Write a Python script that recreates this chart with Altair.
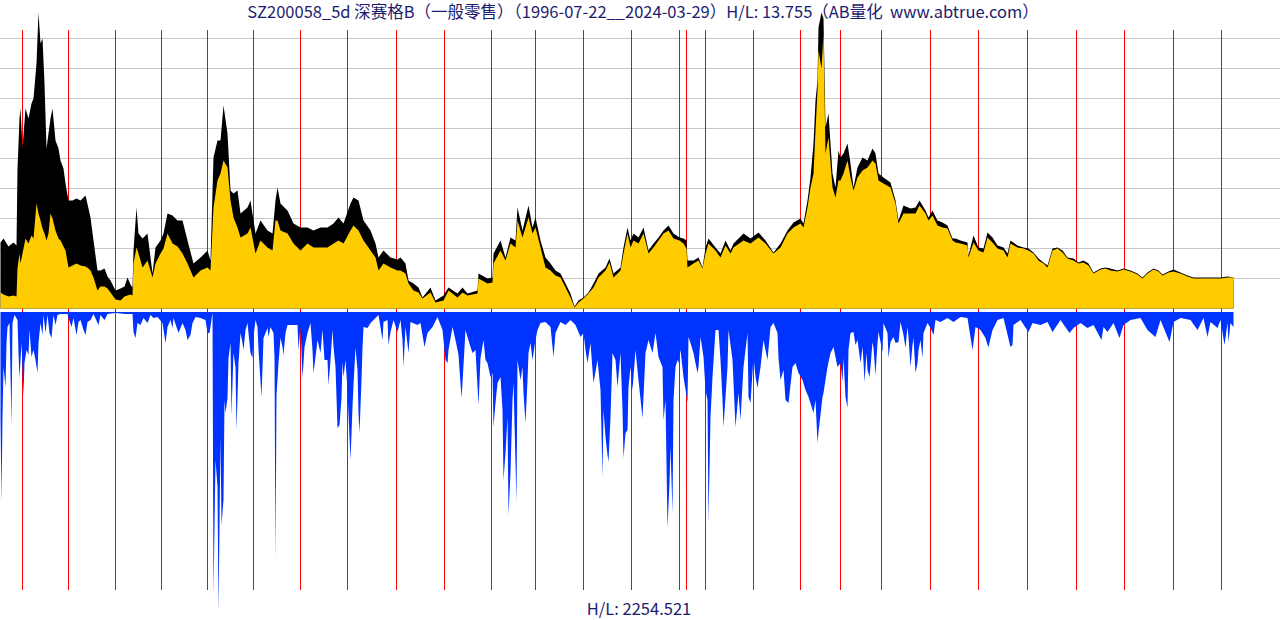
import altair as alt
import pandas as pd

TITLE = "SZ200058_5d 深赛格B（一般零售）（1996-07-22__2024-03-29）H/L: 13.755（AB量化\u00a0\u00a0www.abtrue.com）"
VOL_LABEL = "H/L: 2254.521"

# bar index (5-day bars), high and close in chart units
bar_idx = [0,3,8,13,16,17,19,20,22,25,28,31,33,36,38,40,42,44,46,48,50,52,55,58,60,63,65,68,72,76,80,85,88,90,93,97,100,104,107,110,115,120,124,127,130,132,133,136,138,142,147,152,155,160,163,167,172,177,182,187,193,200,207,210,213,217,220,223,227,230,233,237,240,247,250,255,260,267,272,275,277,280,287,293,300,307,313,320,327,333,338,343,350,353,358,363,370,375,378,383,390,397,400,405,408,413,418,422,430,435,443,448,457,462,467,477,478,487,492,493,500,505,510,515,517,522,528,532,535,540,545,550,555,560,565,570,574,578,583,588,593,598,605,609,613,620,623,627,630,633,638,643,648,653,658,663,668,673,679,683,686,687,693,698,702,705,708,715,720,725,730,733,743,750,758,765,773,780,787,793,800,803,807,810,813,815,817,818,821,823,825,828,832,835,838,840,843,847,850,853,857,862,867,872,875,878,883,890,895,898,903,910,915,919,925,928,932,937,942,947,952,955,960,967,968,973,978,983,987,992,997,1003,1007,1010,1017,1023,1028,1033,1038,1043,1047,1052,1057,1062,1067,1073,1078,1083,1088,1093,1100,1105,1110,1117,1123,1130,1137,1142,1147,1153,1158,1162,1168,1173,1180,1187,1193,1200,1207,1213,1220,1227,1233]
high = [66,70,62,66,63,140,190,200,160,200,190,205,210,245,296,265,270,225,160,175,190,200,168,160,148,140,125,108,108,110,108,113,100,91,68,38,38,40,32,28,18,20,22,31,24,21,58,101,75,70,75,35,61,68,75,95,93,88,88,68,45,51,58,48,151,168,168,203,175,118,115,118,95,101,108,75,88,78,75,108,121,105,98,85,81,81,78,81,81,85,91,85,105,111,108,88,78,65,51,58,51,49,51,45,28,25,21,11,21,8,13,21,15,21,15,18,35,30,31,55,68,51,71,68,101,78,103,81,91,68,51,45,38,35,25,15,2,8,11,16,25,35,41,50,35,41,61,81,68,75,71,81,58,65,71,78,83,75,71,70,68,48,48,51,41,61,70,61,55,68,58,65,75,70,76,68,56,65,78,86,90,85,108,131,165,208,228,281,296,290,181,195,135,121,158,151,155,165,145,121,141,151,148,160,155,135,131,126,108,88,103,100,101,108,98,91,98,88,86,83,70,70,68,66,53,73,61,60,76,71,63,61,55,68,63,61,60,56,50,46,43,60,61,58,51,50,46,48,45,36,40,41,40,38,40,38,35,31,36,40,38,34,37,39,36,33,31,31,31,31,31,32,31]
close = [16,14,12,13,12,40,55,45,55,70,65,73,70,105,95,88,80,75,68,75,95,90,78,70,68,62,58,41,43,45,43,42,40,38,31,18,22,22,20,16,9,8,12,13,14,13,45,61,55,41,48,31,45,55,60,75,65,62,55,45,31,38,41,38,101,128,135,148,141,108,91,81,71,75,81,55,68,61,58,88,88,78,75,65,58,65,61,61,61,65,68,65,78,83,78,68,58,51,38,45,41,38,38,35,25,18,16,10,16,6,8,18,11,16,13,15,30,25,26,45,58,48,65,61,88,71,91,75,81,61,41,38,33,31,21,11,1,6,10,15,21,31,38,46,31,38,55,75,61,68,65,75,55,61,68,75,78,70,68,65,60,41,45,48,40,55,65,58,51,63,55,61,68,65,71,65,55,61,75,81,85,81,101,121,135,178,218,258,240,275,155,171,121,111,128,128,135,148,131,118,131,138,141,148,145,128,125,121,105,85,95,95,95,103,95,88,93,83,81,80,68,66,65,63,51,66,58,56,71,66,60,58,51,65,61,60,58,55,48,45,41,58,60,56,50,48,45,46,43,35,39,40,38,37,39,37,34,30,35,39,37,33,36,37,35,32,30,30,30,30,30,31,31]

# volume (chart units) by bar index
vol_idx = [0,1,2,3,5,6,7,9,11,12,14,17,18,19,21,23,24,26,28,29,31,33,35,37,38,40,42,43,45,47,49,51,53,55,57,60,67,68,71,73,76,78,80,83,85,87,90,93,98,100,104,107,115,125,132,133,135,137,140,143,147,150,153,157,162,165,167,170,172,173,178,182,185,187,190,192,195,200,205,207,209,212,213,215,217,218,220,221,223,224,225,227,228,230,231,233,235,236,238,240,242,243,245,247,249,250,252,253,255,257,258,261,262,263,267,268,270,273,274,275,276,278,280,282,283,285,287,297,298,300,302,304,307,310,312,313,315,317,320,322,324,327,328,330,332,333,335,337,339,341,342,343,345,347,348,350,352,353,355,357,358,359,361,362,363,367,370,373,378,382,383,387,388,390,393,397,400,402,403,405,408,410,417,420,424,427,432,437,442,445,447,448,452,455,458,461,462,465,467,470,472,475,478,480,483,485,487,490,492,493,495,497,500,502,503,505,507,508,510,512,513,515,516,517,520,522,523,525,527,528,530,532,535,537,540,545,550,553,555,560,565,570,575,580,583,585,587,590,593,597,600,602,603,605,607,608,610,612,615,617,620,622,623,625,627,628,630,632,635,638,642,645,648,652,655,658,662,663,665,667,669,670,672,673,675,677,678,680,683,687,688,690,693,697,698,700,703,705,707,708,710,712,715,718,720,722,723,727,728,732,735,738,740,743,747,748,750,753,755,757,760,763,767,770,773,777,778,780,783,785,788,792,795,798,802,805,808,813,815,817,818,822,823,827,830,833,837,840,842,843,845,847,848,850,853,855,857,860,862,863,864,866,867,869,870,872,873,875,877,878,882,883,887,888,890,893,895,898,900,903,905,907,908,910,912,913,915,917,918,920,922,923,927,930,933,935,940,947,953,960,967,972,975,980,985,987,988,992,997,1003,1010,1012,1013,1020,1028,1032,1040,1047,1052,1060,1069,1073,1080,1087,1093,1101,1103,1107,1113,1119,1123,1130,1140,1147,1155,1160,1169,1173,1180,1190,1197,1203,1207,1210,1217,1220,1224,1227,1228,1230,1233]
volume = [105,190,105,55,75,31,15,11,113,11,3,8,41,66,31,83,51,38,43,18,45,38,48,61,31,11,23,3,21,3,21,26,3,13,3,2,2,6,15,6,23,10,8,18,23,10,8,2,13,3,8,2,1,2,2,20,26,11,13,6,11,3,6,5,11,31,15,8,16,6,21,11,18,28,23,11,5,6,8,21,21,1,283,148,175,300,125,213,188,88,101,86,46,31,103,41,55,118,51,21,31,38,18,11,31,41,46,25,8,15,38,85,56,26,16,25,15,21,46,248,83,51,26,35,43,21,13,13,38,15,66,35,21,11,38,61,45,28,41,18,48,48,73,48,18,35,55,116,113,86,50,65,48,78,103,148,95,73,36,58,101,121,68,36,15,16,11,8,3,28,10,8,33,20,8,20,8,28,55,15,41,10,13,11,35,21,15,5,18,48,51,38,15,28,43,86,71,18,25,35,41,38,93,46,28,48,51,65,61,115,91,71,65,98,168,141,105,203,160,88,71,151,190,48,68,55,81,111,68,41,31,48,28,18,11,10,15,45,21,10,13,8,13,25,21,38,51,31,71,48,78,165,98,125,143,150,105,41,48,75,41,98,146,121,118,75,55,78,38,68,106,41,28,41,21,45,55,108,88,216,171,135,201,88,55,48,51,38,65,90,25,31,41,61,55,25,45,78,88,210,105,65,18,18,48,88,115,55,18,48,115,81,108,55,21,85,91,45,65,76,55,28,48,15,11,21,46,68,58,88,91,55,51,61,68,78,85,101,88,131,120,85,81,55,41,35,55,51,70,46,85,96,38,21,20,33,28,51,35,50,70,41,58,65,55,30,36,63,31,20,40,11,21,46,30,25,31,30,10,23,36,15,25,55,33,26,61,51,38,28,46,21,11,16,23,8,10,6,10,5,6,38,15,18,26,33,35,18,8,6,35,33,13,8,20,11,13,10,20,8,21,16,11,16,13,28,15,20,11,26,13,8,6,18,25,8,30,10,6,8,18,6,25,10,16,8,33,11,30,11,15]

# first bar of each calendar year 1997..2024
year_start_idx = [22,68,115,161,207,253,300,347,396,444,491,535,583,631,679,686,705,753,800,840,881,930,978,1027,1076,1124,1173,1221]
grid_levels = [30,60,90,120,150,180,210,240,270]

N_BARS = 1233

price_df = pd.DataFrame({"idx": bar_idx, "high": high, "close": close})
vol_df = pd.DataFrame({"idx": vol_idx, "vol": volume})
year_df = pd.DataFrame({"idx": year_start_idx})
grid_df = pd.DataFrame({"level": grid_levels})

xs = alt.Scale(domain=[0, N_BARS], range=[0.5, N_BARS + 0.5], nice=False, zero=False)
py = alt.Scale(domain=[0, 300], range=[308.5, 8.5], nice=False)
vy = alt.Scale(domain=[0, 300], range=[312, 612], nice=False)

grid = alt.Chart(grid_df).mark_rule(color="#c8c8c8", strokeWidth=1).encode(
    y=alt.Y("level:Q", scale=py, axis=None),
    x=alt.value(0), x2=alt.value(1280),
)
years = alt.Chart(year_df).mark_rule(color="#ff0000", strokeWidth=1).encode(
    x=alt.X("idx:Q", scale=xs, axis=None),
    y=alt.value(30), y2=alt.value(590),
)
black = alt.Chart(price_df).mark_area(color="#000000", opacity=1).encode(
    x=alt.X("idx:Q", scale=xs, axis=None),
    y=alt.Y("high:Q", scale=py, axis=None, stack=None),
)
yellow = alt.Chart(price_df).mark_area(color="#ffcc00", opacity=1).encode(
    x=alt.X("idx:Q", scale=xs, axis=None),
    y=alt.Y("close:Q", scale=py, axis=None, stack=None),
)
vol = alt.Chart(vol_df).mark_area(color="#0033ff", opacity=1).encode(
    x=alt.X("idx:Q", scale=xs, axis=None),
    y=alt.Y("vol:Q", scale=vy, axis=None, stack=None),
)
title = alt.Chart(pd.DataFrame({"t": [TITLE]})).mark_text(
    font="Noto Sans CJK SC", fontSize=16.5, color="#1c1c6e", align="center", baseline="alphabetic"
).encode(text="t:N", x=alt.value(643), y=alt.value(17.5))
bottom = alt.Chart(pd.DataFrame({"t": [VOL_LABEL]})).mark_text(
    font="Noto Sans CJK SC", fontSize=16.5, color="#1c1c6e", align="center", baseline="alphabetic"
).encode(text="t:N", x=alt.value(639), y=alt.value(615))

chart = alt.layer(grid, years, black, yellow, vol, title, bottom).resolve_scale(
    y="independent"
).properties(
    width=1280, height=620, padding=0, autosize="none", background="white"
).configure_view(stroke=None)

chart.save("out.html", embed_options={"renderer": "svg", "actions": False})
